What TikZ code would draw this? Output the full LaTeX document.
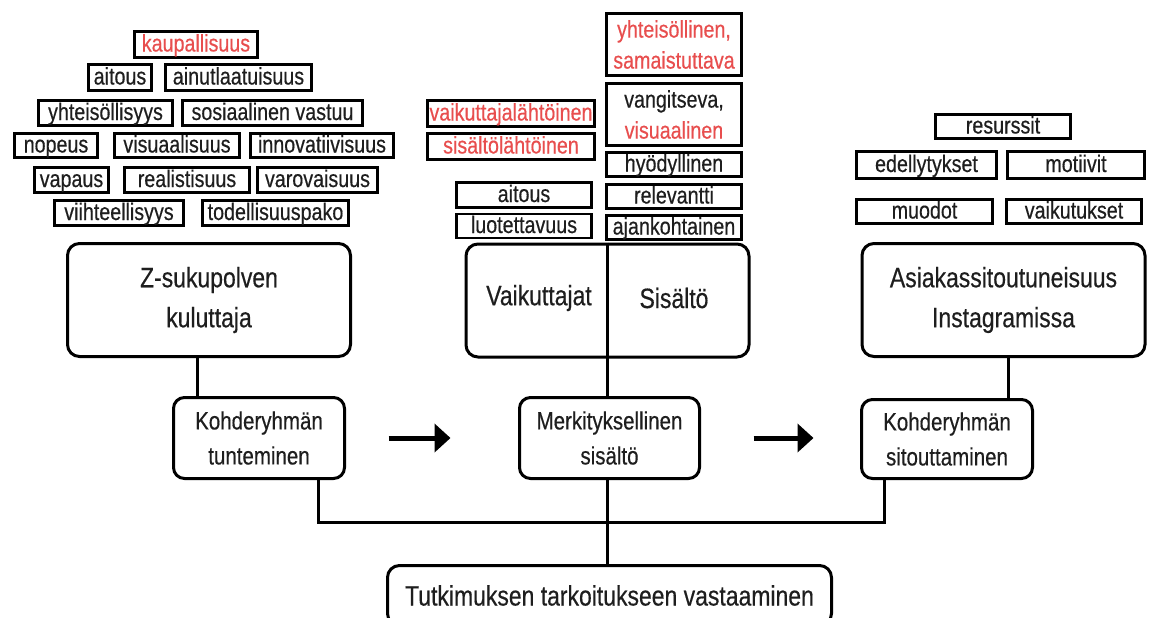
\documentclass[tikz,border=0pt]{standalone}
\usepackage{fontspec}
\setmainfont{Liberation Sans}[FakeStretch=0.82,FakeBold=0.4]
\usepackage{xcolor}
\usetikzlibrary{arrows.meta}
\definecolor{tagred}{RGB}{232,78,78}
\definecolor{ink}{RGB}{30,30,30}
\newcommand{\attrfont}{\fontsize{12}{15.5}\selectfont}
\newcommand{\boxfont}{\fontsize{14}{20}\selectfont}
\newcommand{\stepfont}{\fontsize{12.5}{17.5}\selectfont}

\begin{document}
\begin{tikzpicture}[x=0.5pt,y=-0.5pt,
    attr/.style={draw,line width=1.3pt,minimum width=#1,minimum height=12.5pt,
      inner sep=0pt,align=center,font=\attrfont,text=ink,text height=9.5pt,text depth=2.5pt},
    twoline/.style={minimum height=31pt,text height={},text depth={}},
    bigbox/.style={draw,line width=1.5pt,rounded corners=6pt,minimum width=141.5pt,
      minimum height=56.5pt,align=center,font=\boxfont,text=ink},
    stepbox/.style={draw,line width=1.5pt,rounded corners=5.5pt,minimum width=85.5pt,
      minimum height=40.5pt,align=center,font=\stepfont,text=ink},
    link/.style={line width=1.5pt},
    bigarrow/.style={line width=2.5pt,-{Triangle[length=8pt,width=14pt]}}]
    \fill[white] (0,0) rectangle (1150,617);
    \useasboundingbox (0,0) rectangle (1150,617);

    \node[attr=61.5pt,minimum height=13pt,text=tagred] (kaup) at (196,44.5) {kaupallisuus};
    \node[attr=31.5pt,minimum height=13pt] (aitL) at (120,77.5) {aitous};
    \node[attr=73pt,minimum height=13pt] (ainu) at (238.5,77.5) {ainutlaatuisuus};
    \node[attr=67pt] (yhtL) at (105.5,113) {yhteisöllisyys};
    \node[attr=90pt] (sosi) at (272.5,113) {sosiaalinen vastuu};
    \node[attr=41.5pt,minimum height=12pt] (nope) at (56,145.5) {nopeus};
    \node[attr=62.5pt,minimum height=12pt] (visu) at (177,145.5) {visuaalisuus};
    \node[attr=71.5pt,minimum height=12pt] (inno) at (322,145.5) {innovatiivisuus};
    \node[attr=37pt] (vapa) at (71.5,180) {vapaus};
    \node[attr=62.5pt] (real) at (187,180) {realistisuus};
    \node[attr=60pt] (varo) at (317.5,180) {varovaisuus};
    \node[attr=64.5pt] (viih) at (119,213) {viihteellisyys};
    \node[attr=73pt] (tode) at (275.5,213) {todellisuuspako};

    \node[attr=67.5pt,twoline,text=tagred] (yhtM) at (674,44.5) {yhteisöllinen,\\samaistuttava};
    \node[attr=67.5pt,twoline] (vang) at (674,114.5) {vangitseva,\\\textcolor{tagred}{visuaalinen}};
    \node[attr=67.5pt,minimum height=12pt] (hyod) at (674,164.5) {hyödyllinen};
    \node[attr=67.5pt,minimum height=12pt] (rele) at (674,196.5) {relevantti};
    \node[attr=67.5pt,minimum height=12pt] (ajan) at (674,227.5) {ajankohtainen};
    \node[attr=83.5pt,minimum height=13pt,text=tagred] (vlah) at (511,113.5) {vaikuttajalähtöinen};
    \node[attr=83.5pt,minimum height=13pt,text=tagred] (slah) at (511,146.5) {sisältölähtöinen};
    \node[attr=67.5pt] (aitM) at (524,195) {aitous};
    \node[attr=67.5pt,minimum height=11.5pt] (luot) at (524,226) {luotettavuus};

    \node[attr=67.5pt,minimum height=12pt] (resu) at (1003,126.5) {resurssit};
    \node[attr=70pt,minimum height=13.5pt] (edel) at (926.5,165) {edellytykset};
    \node[attr=68.5pt,minimum height=13.5pt] (moti) at (1076,165) {motiivit};
    \node[attr=68pt,minimum height=12pt] (muod) at (924.5,211.5) {muodot};
    \node[attr=67.5pt,minimum height=12pt] (vaik) at (1074,211.5) {vaikutukset};

    \node[bigbox] (zgen) at (209,300) {Z-sukupolven\\kuluttaja};
    \node[bigbox] (vs) at (607.5,300.5) {};
    \node[font=\boxfont,text=ink] (vaikt) at (539,298) {Vaikuttajat};
    \node[font=\boxfont,text=ink] (sis) at (674,298) {Sisältö};
    \node[bigbox] (asia) at (1003.5,300) {Asiakassitoutuneisuus\\Instagramissa};

    \node[stepbox] (tunt) at (259,438) {Kohderyhmän\\tunteminen};
    \node[stepbox,minimum width=90pt] (merk) at (609.5,438) {Merkityksellinen\\sisältö};
    \node[stepbox,minimum height=39.5pt] (sito) at (947,439) {Kohderyhmän\\sitouttaminen};

    \node[bigbox,minimum width=222pt,minimum height=30pt] (tutk) at (609.5,595.5)
      {Tutkimuksen tarkoitukseen vastaaminen};

    \draw[link] ([xshift=12.75pt]tunt.north west) coordinate (t1) -- (t1 |- zgen.south);
    \draw[link] (vs.north) -- (vs.north |- merk.north);
    \draw[link] ([xshift=-12.75pt]sito.north east) coordinate (s1) -- (s1 |- asia.south);
    \coordinate (bus) at (607.5,522);
    \draw[link] ([xshift=-13.75pt]tunt.south east) |- (bus)
      -| ([xshift=12.25pt]sito.south west);
    \draw[link] (merk.south -| vs.north) -- (tutk.north -| vs.north);

    \draw[bigarrow,shorten <=21.25pt,shorten >=33.75pt] (tunt.east) -- (tunt.east -| merk.west);
    \draw[bigarrow,shorten <=26.25pt,shorten >=23.25pt] (merk.east) -- (merk.east -| sito.west);
  \end{tikzpicture}
\end{document}
